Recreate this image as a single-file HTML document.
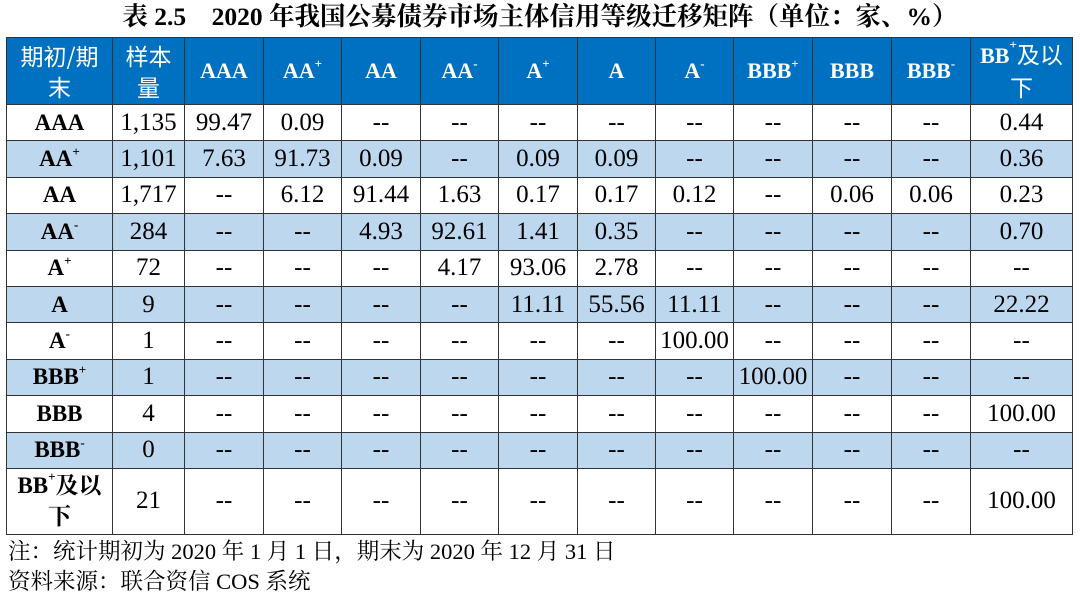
<!DOCTYPE html>
<html><head><meta charset="utf-8"><style>
body{margin:0;width:1080px;height:599px;background:#fff;overflow:hidden;font-family:"Liberation Serif","Noto Serif CJK SC",serif;color:#000}
.title{position:absolute;left:0;width:1080px;top:1px;text-align:center;font-weight:bold;font-size:25.5px;line-height:32px}
table{position:absolute;left:6px;top:37px;border-collapse:collapse;table-layout:fixed}
td{border:1.5px solid #333;text-align:center;font-size:25px;padding:0;line-height:28px;white-space:nowrap}
tr.h td{background:#0070C0;color:#fff;font-weight:bold;font-size:22px;height:66px;border-color:#333}
tr.h td.cj{font-family:"Noto Sans CJK SC",sans-serif;font-weight:normal;font-size:23px;line-height:31px}
tr.r td{height:35.4px}
tr.b td{background:#BDD7EE}
td.l{font-weight:bold;font-size:23px}
sup{font-size:13px;vertical-align:top;line-height:14px}
.note{position:absolute;left:8px;font-size:22.5px;line-height:28px;font-family:"Liberation Serif","Noto Serif CJK SC",serif}
</style></head><body>
<div class="title">表 2.5　2020 年我国公募债券市场主体信用等级迁移矩阵（单位：家、%）</div>
<table>
<colgroup><col style="width:106px"><col style="width:72px"><col style="width:79px"><col style="width:78px"><col style="width:79px"><col style="width:78px"><col style="width:79px"><col style="width:78px"><col style="width:78px"><col style="width:79px"><col style="width:79px"><col style="width:79px"><col style="width:102px"></colgroup>
<tr class="h"><td class="cj">期初/期<br>末</td><td class="cj">样本<br>量</td><td>AAA</td><td>AA<sup>+</sup></td><td>AA</td><td>AA<sup>-</sup></td><td>A<sup>+</sup></td><td>A</td><td>A<sup>-</sup></td><td>BBB<sup>+</sup></td><td>BBB</td><td>BBB<sup>-</sup></td><td style="line-height:31px">BB<sup>+</sup><span style="font-family:'Noto Sans CJK SC',sans-serif;font-weight:normal;font-size:23px">及以<br>下</span></td></tr>
<tr class="r"><td class="l">AAA</td><td>1,135</td><td>99.47</td><td>0.09</td><td>--</td><td>--</td><td>--</td><td>--</td><td>--</td><td>--</td><td>--</td><td>--</td><td>0.44</td></tr>
<tr class="r b"><td class="l">AA<sup>+</sup></td><td>1,101</td><td>7.63</td><td>91.73</td><td>0.09</td><td>--</td><td>0.09</td><td>0.09</td><td>--</td><td>--</td><td>--</td><td>--</td><td>0.36</td></tr>
<tr class="r"><td class="l">AA</td><td>1,717</td><td>--</td><td>6.12</td><td>91.44</td><td>1.63</td><td>0.17</td><td>0.17</td><td>0.12</td><td>--</td><td>0.06</td><td>0.06</td><td>0.23</td></tr>
<tr class="r b"><td class="l">AA<sup>-</sup></td><td>284</td><td>--</td><td>--</td><td>4.93</td><td>92.61</td><td>1.41</td><td>0.35</td><td>--</td><td>--</td><td>--</td><td>--</td><td>0.70</td></tr>
<tr class="r"><td class="l">A<sup>+</sup></td><td>72</td><td>--</td><td>--</td><td>--</td><td>4.17</td><td>93.06</td><td>2.78</td><td>--</td><td>--</td><td>--</td><td>--</td><td>--</td></tr>
<tr class="r b"><td class="l">A</td><td>9</td><td>--</td><td>--</td><td>--</td><td>--</td><td>11.11</td><td>55.56</td><td>11.11</td><td>--</td><td>--</td><td>--</td><td>22.22</td></tr>
<tr class="r"><td class="l">A<sup>-</sup></td><td>1</td><td>--</td><td>--</td><td>--</td><td>--</td><td>--</td><td>--</td><td>100.00</td><td>--</td><td>--</td><td>--</td><td>--</td></tr>
<tr class="r b"><td class="l">BBB<sup>+</sup></td><td>1</td><td>--</td><td>--</td><td>--</td><td>--</td><td>--</td><td>--</td><td>--</td><td>100.00</td><td>--</td><td>--</td><td>--</td></tr>
<tr class="r"><td class="l">BBB</td><td>4</td><td>--</td><td>--</td><td>--</td><td>--</td><td>--</td><td>--</td><td>--</td><td>--</td><td>--</td><td>--</td><td>100.00</td></tr>
<tr class="r b"><td class="l">BBB<sup>-</sup></td><td>0</td><td>--</td><td>--</td><td>--</td><td>--</td><td>--</td><td>--</td><td>--</td><td>--</td><td>--</td><td>--</td><td>--</td></tr>
<tr><td class="l" style="height:65px;line-height:31px">BB<sup>+</sup>及以<br>下</td><td>21</td><td>--</td><td>--</td><td>--</td><td>--</td><td>--</td><td>--</td><td>--</td><td>--</td><td>--</td><td>--</td><td>100.00</td></tr>
</table>
<div class="note" style="top:538px">注：统计期初为 2020 年 1 月 1 日，期末为 2020 年 12 月 31 日</div>
<div class="note" style="top:568px">资料来源：联合资信 COS 系统</div>
</body></html>
